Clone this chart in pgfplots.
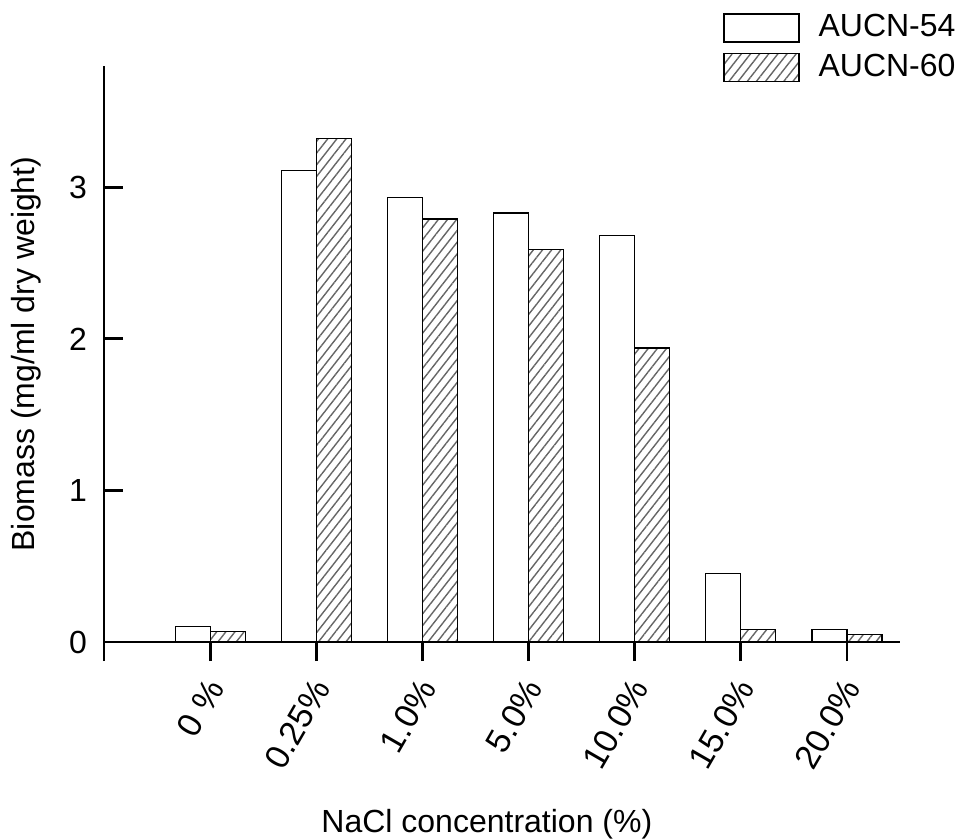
\documentclass[border=0pt]{standalone}
\usepackage{fontspec}
\setmainfont{Liberation Sans}
\usepackage{pgfplots}
\pgfplotsset{compat=1.18}
\usetikzlibrary{patterns.meta}
\begin{document}
\fontsize{16}{19}\selectfont
\begin{tikzpicture}
\useasboundingbox (-52pt,-98.5pt) rectangle (428.5pt,321pt);
\begin{axis}[
  at={(0,0)}, anchor=south west,
  scale only axis, width=398pt, height=288pt,
  xmin=-1, xmax=6.5, ymin=0, ymax=3.8,
  axis x line*=bottom, axis y line*=left,
  axis line style={line width=1.4pt},
  xtick={-1,0,1,2,3,4,5,6},
  xticklabels={,0 \%,0.25\%,1.0\%,5.0\%,10.0\%,15.0\%,20.0\%},
  xtick align=outside,
  ytick={0,1,2,3},
  ytick align=inside,
  major tick length=9.5pt,
  tick style={line width=1.4pt, black},
  tick label style={font=\fontsize{16}{19}\selectfont},
  /pgf/number format/assume math mode=true,
  xticklabel style={rotate=60, anchor=east, xshift=-2.5pt, yshift=-7.5pt, font=\fontsize{17}{20}\selectfont},
  yticklabel style={xshift=-3pt},
  ylabel={Biomass (mg/ml dry weight)},
  xlabel={NaCl concentration (\%)},
  x label style={at={(axis description cs:0.481,0)}, anchor=base, yshift=-95pt, font=\fontsize{16}{19}\selectfont},
  y label style={at={(axis description cs:-0.0867,0.5)}, anchor=base, font=\fontsize{16}{19}\selectfont},
  ybar, bar width=0.33,
  legend style={at={(rel axis cs:0.7776,1.097)}, anchor=north west, draw=none, fill=none, inner sep=0pt, row sep=2pt, column sep=7.5pt, font=\fontsize{16}{19}\selectfont},
  legend cell align=left,
  legend image code/.code={\draw[#1,/tikz/.cd,bar shift=0pt] (0pt,-7pt) rectangle (37.5pt,7pt);},
]
\addplot[draw=black, line width=0.6pt, fill=white, bar shift=-0.165] coordinates {(0,0.10) (1,3.11) (2,2.93) (3,2.83) (4,2.68) (5,0.45) (6,0.08)};
\addplot[draw=black, line width=0.6pt, pattern={Lines[angle=52,distance=3.6pt,line width=0.7pt]}, pattern color=black!60, bar shift=0.165] coordinates {(0,0.07) (1,3.32) (2,2.79) (3,2.59) (4,1.94) (5,0.08) (6,0.05)};
\legend{AUCN-54, AUCN-60}
\end{axis}
\end{tikzpicture}
\end{document}
